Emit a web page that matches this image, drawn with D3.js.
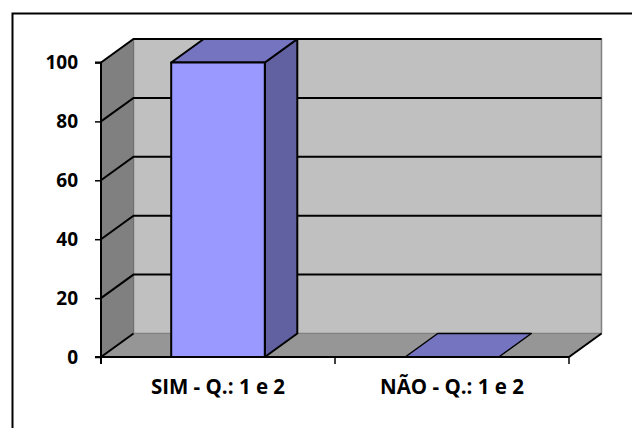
<!DOCTYPE html>
<html>
<head>
<meta charset="utf-8">
<script src="https://cdn.jsdelivr.net/npm/d3@7"></script>
<style>
  html, body { margin: 0; padding: 0; background: #fff; }
  svg { display: block; }
  text { font-family: "Open Sans", "Liberation Sans", sans-serif; font-weight: bold; fill: #000; }
</style>
</head>
<body>
<svg id="chart" width="632" height="428"></svg>
<script>
// Responses per category (percent)
const categories = ["SIM - Q.: 1 e 2", "NÃO - Q.: 1 e 2"];
const values = [100, 0];
const yTicks = [0, 20, 40, 60, 80, 100];

const svg = d3.select("#chart");

// Chart frame (top and left edges visible; the rest runs off the page)
svg.append("rect")
  .attr("x", 12.5).attr("y", 13.5)
  .attr("width", 700).attr("height", 500)
  .attr("fill", "#fff").attr("stroke", "#000").attr("stroke-width", 2);

// 3D projection: depth offset of the back plane
const DX = 32.5, DY = -23.5;

const x = d3.scaleBand()
  .domain(categories)
  .range([101, 569])
  .paddingInner(0.6)
  .paddingOuter(0.3);

const y = d3.scaleLinear().domain([0, 100]).range([357, 62.5]);

const x0 = x.range()[0], x1 = x.range()[1];
const step = x.step();
const pt = (px, py, d) => [px + d * DX, py + d * DY];
const poly = pts => "M" + pts.map(p => p.join(",")).join("L") + "Z";

// Back wall
svg.append("path")
  .attr("d", poly([pt(x0, y(100), 1), pt(x1, y(100), 1), pt(x1, y(0), 1), pt(x0, y(0), 1)]))
  .attr("fill", "#c0c0c0").attr("stroke", "#808080").attr("stroke-width", 1.5);

// Side wall
svg.append("path")
  .attr("d", poly([pt(x0, y(100), 0), pt(x0, y(100), 1), pt(x0, y(0), 1), pt(x0, y(0), 0)]))
  .attr("fill", "#808080").attr("stroke", "#707070").attr("stroke-width", 1);

// Floor
svg.append("path")
  .attr("d", poly([pt(x0, y(0), 0), pt(x0, y(0), 1), pt(x1, y(0), 1), pt(x1, y(0), 0)]))
  .attr("fill", "#969696").attr("stroke", "#808080").attr("stroke-width", 1);

// Gridlines on side wall and back wall
const grid = svg.append("g").attr("fill", "none").attr("stroke", "#000").attr("stroke-width", 2);
yTicks.filter(t => t > 0).forEach(t => {
  grid.append("path")
    .attr("d", "M" + pt(x0, y(t), 0).join(",") + "L" + pt(x0, y(t), 1).join(",") + "L" + pt(x1, y(t), 1).join(","));
});
// Zero line along side wall / floor junction, floor right edge
grid.append("path").attr("d", "M" + pt(x0, y(0), 0).join(",") + "L" + pt(x0, y(0), 1).join(","));
grid.append("path").attr("d", "M" + pt(x1, y(0), 0).join(",") + "L" + pt(x1, y(0), 1).join(","));

// Bars
const bars = svg.append("g").attr("stroke", "#000").attr("stroke-width", 2).attr("stroke-linejoin", "round");
categories.forEach((c, i) => {
  const bx = x(c), bw = x.bandwidth();
  const yt = y(values[i]), yb = y(0);
  const g = bars.append("g");
  if (values[i] > 0) {
    g.append("path")
      .attr("d", poly([pt(bx + bw, yt, 0), pt(bx + bw, yt, 1), pt(bx + bw, yb, 1), pt(bx + bw, yb, 0)]))
      .attr("fill", "#6161a1");
    g.append("path")
      .attr("d", poly([pt(bx, yt, 0), pt(bx, yt, 1), pt(bx + bw, yt, 1), pt(bx + bw, yt, 0)]))
      .attr("fill", "#7474c0");
    g.append("rect")
      .attr("x", bx).attr("y", yt).attr("width", bw).attr("height", yb - yt)
      .attr("fill", "#9999ff");
  } else {
    g.append("path")
      .attr("d", poly([pt(bx, yt, 0), pt(bx, yt, 1), pt(bx + bw, yt, 1), pt(bx + bw, yt, 0)]))
      .attr("fill", "#7474c0").attr("stroke-width", 1.5);
  }
});

// Y axis
const yAxis = d3.axisLeft(y).tickValues(yTicks).tickSize(6).tickPadding(17);
const gy = svg.append("g").attr("transform", `translate(${x0},0)`).call(yAxis);
gy.select(".domain").attr("stroke", "#000").attr("stroke-width", 2)
  .attr("d", `M-6,${y(100)}H0V${y(0) + 7}`);
gy.selectAll(".tick line").attr("stroke", "#000").attr("stroke-width", 1.5);
gy.selectAll(".tick text").attr("font-size", 19).attr("font-family", "'Open Sans', sans-serif")
  .attr("font-weight", "bold").attr("fill", "#000");

// X axis
const gx = svg.append("g").attr("transform", `translate(0,${y(0)})`);
gx.append("line").attr("x1", x0 - 6).attr("x2", x1).attr("y1", 0).attr("y2", 0)
  .attr("stroke", "#000").attr("stroke-width", 2);
d3.range(categories.length + 1).forEach(i => {
  gx.append("line").attr("x1", x0 + i * step).attr("x2", x0 + i * step)
    .attr("y1", 0).attr("y2", 7).attr("stroke", "#000").attr("stroke-width", 1.5);
});
gx.selectAll("text.cat").data(categories).join("text")
  .attr("class", "cat")
  .attr("x", d => x(d) + x.bandwidth() / 2)
  .attr("y", 36.5)
  .attr("text-anchor", "middle")
  .attr("font-size", 20.5)
  .text(d => d);
</script>
</body>
</html>
